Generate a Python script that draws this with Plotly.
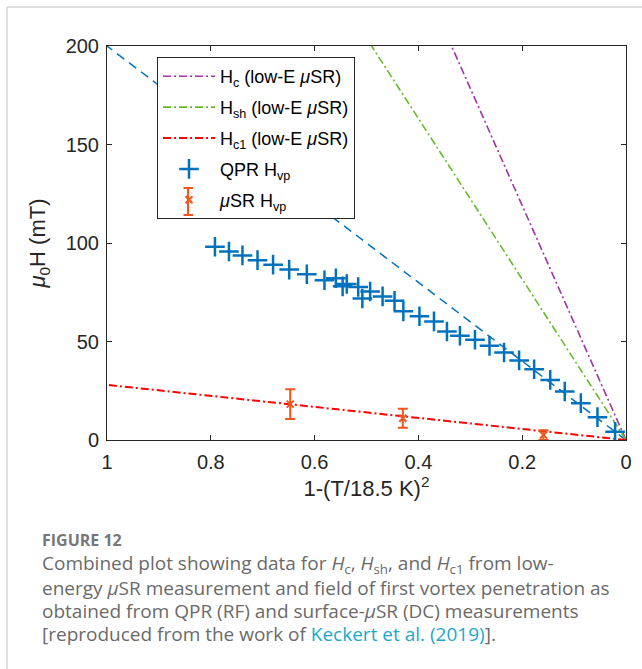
import plotly.graph_objects as go

# ---------------- data ----------------
qpr_t = [0.792, 0.765, 0.739, 0.710, 0.680, 0.649, 0.615, 0.581, 0.559, 0.546,
         0.538, 0.516, 0.508, 0.493, 0.469, 0.446, 0.429, 0.398, 0.370, 0.345,
         0.320, 0.291, 0.263, 0.235, 0.206, 0.177, 0.146, 0.118, 0.087, 0.055, 0.021]
qpr_H = [98.1, 95.7, 93.7, 91.3, 89.0, 86.5, 84.1, 81.1, 82.1, 78.0,
         79.2, 77.7, 71.8, 75.4, 72.9, 70.7, 65.3, 62.8, 60.2, 55.1,
         52.9, 50.9, 47.8, 44.4, 40.4, 35.9, 30.5, 24.6, 18.7, 11.6, 4.2]

musr_t = [0.647, 0.430, 0.159]
musr_H = [18.2, 11.0, 2.5]
musr_err = [7.6, 4.8, 2.5]

line_t = [0.0, 1.0]
hc_H = [0.0, 595.0]
hsh_H = [0.0, 408.0]
hc1_H = [0.0, 28.0]
fit_H = [0.0, 200.0]

x_ticks = [0, 0.2, 0.4, 0.6, 0.8, 1]
x_ticklabels = ["0", "0.2", "0.4", "0.6", "0.8", "1"]
y_ticks = [0, 50, 100, 150, 200]

# ---------------- geometry helpers ----------------
W, H = 642, 669
L, R, T, B = 107, 626, 46, 440


def px(x):
    return (x - L) / (R - L)


def py(y):
    return (B - y) / (B - T)


BLUE = "#0072BD"
PURPLE = "#A033A6"
GREEN = "#68BA2C"
RED = "#FF0000"
ORANGE = "#F0561E"
FONT = "Liberation Sans, Arial, sans-serif"
MU = "<i>μ</i>"

fig = go.Figure()

fig.add_trace(go.Scatter(x=line_t, y=fit_H, mode="lines", showlegend=False,
                         line=dict(color=BLUE, width=1.5, dash="9px,6px")))
fig.add_trace(go.Scatter(x=line_t, y=hc_H, mode="lines", legendgroup="a",
                         name=f"H<sub>c</sub> (low-E {MU}SR)",
                         line=dict(color=PURPLE, width=1.6, dash="8px,3px,2px,3px")))
fig.add_trace(go.Scatter(x=line_t, y=hsh_H, mode="lines", legendgroup="b",
                         name=f"H<sub>sh</sub> (low-E {MU}SR)",
                         line=dict(color=GREEN, width=1.6, dash="8px,3px,2px,3px")))
fig.add_trace(go.Scatter(x=line_t, y=hc1_H, mode="lines", legendgroup="c",
                         name=f"H<sub>c1</sub> (low-E {MU}SR)",
                         line=dict(color=RED, width=2, dash="8px,3px,2px,3px")))
fig.add_trace(go.Scatter(x=qpr_t, y=qpr_H, mode="markers", legendgroup="d",
                         name="QPR H<sub>vp</sub>",
                         marker=dict(symbol="cross-thin", size=14, color=BLUE,
                                     line=dict(color=BLUE, width=2.5))))
fig.add_trace(go.Scatter(x=musr_t, y=musr_H, mode="markers", legendgroup="e",
                         name=f"{MU}SR H<sub>vp</sub>",
                         marker=dict(symbol="x-thin", size=7, color=ORANGE,
                                     line=dict(color=ORANGE, width=2)),
                         error_y=dict(type="data", array=musr_err, color=ORANGE,
                                      thickness=2, width=5)))

axis_common = dict(showline=True, linecolor="#262626", linewidth=1, mirror="ticks",
                   ticks="inside", ticklen=5, tickwidth=1, tickcolor="#262626",
                   showgrid=False, zeroline=False,
                   tickfont=dict(family=FONT, size=20, color="#262626"))

fig.update_xaxes(range=[1, 0], tickvals=x_ticks, ticktext=x_ticklabels,
                 ticklabelstandoff=4,
                 title=dict(text="1-(T/18.5 K)<sup>2</sup>",
                            font=dict(family=FONT, size=22, color="#262626"),
                            standoff=7),
                 **axis_common)
fig.update_yaxes(range=[0, 200], tickvals=y_ticks, ticklabelstandoff=3,
                 title=dict(text=f"{MU}<sub>0</sub>H (mT)",
                            font=dict(family=FONT, size=22, color="#262626"),
                            standoff=13),
                 **axis_common)

fig.update_layout(
    width=W, height=H,
    margin=dict(l=L, r=W - R, t=T, b=H - B, autoexpand=False),
    paper_bgcolor="white", plot_bgcolor="white",
    font=dict(family=FONT, color="#262626"),
    legend=dict(x=px(157), y=py(57), xanchor="left", yanchor="top",
                bgcolor="white", bordercolor="#262626", borderwidth=1,
                itemwidth=52, font=dict(family=FONT, size=18, color="#000000"),
                tracegroupgap=4.5),
)

# legend symbol for the error-bar series (vertical bar with caps)
EB_X, EB_Y0, EB_Y1, CAP_W = 188, 188, 215, 10
for (x0, y0, dx, dy) in [(EB_X, EB_Y1, 0, -(EB_Y1 - EB_Y0)),
                         (EB_X + CAP_W / 2, EB_Y0, -CAP_W, 0),
                         (EB_X + CAP_W / 2, EB_Y1, -CAP_W, 0)]:
    fig.add_annotation(xref="paper", yref="paper", x=px(x0), y=py(y0),
                       ax=dx, ay=dy, text=" ", font=dict(size=1),
                       showarrow=True, arrowhead=0, arrowwidth=2,
                       arrowcolor=ORANGE, standoff=0, startstandoff=0, borderpad=0)

# card border
fig.add_shape(type="line", xref="paper", yref="paper",
              x0=px(7), x1=px(642), y0=py(7), y1=py(7),
              line=dict(color="#d4d4d4", width=1.5))
fig.add_shape(type="line", xref="paper", yref="paper",
              x0=px(7), x1=px(7), y0=py(7), y1=py(669),
              line=dict(color="#d4d4d4", width=1.5))

CAP = "Open Sans, Noto Sans, sans-serif"
GRAY = "#6a6a6a"
TEAL = "#1ba9c9"
fig.add_annotation(xref="paper", yref="paper", x=px(40), y=py(540),
                   xanchor="left", yanchor="middle", showarrow=False,
                   text="<b>FIGURE 12</b>",
                   font=dict(family=CAP, size=16, color="#777777"))
lines = [
    "Combined plot showing data for <i>H</i><sub>c</sub>, <i>H</i><sub>sh</sub>, and <i>H</i><sub>c1</sub> from low-",
    "energy <i>μ</i>SR measurement and field of first vortex penetration as",
    "obtained from QPR (RF) and surface-<i>μ</i>SR (DC) measurements",
    f"[reproduced from the work of <span style='color:{TEAL}'>Keckert et al. (2019)</span>].",
]
ys = [564, 588, 611, 634]
for txt, yy in zip(lines, ys):
    fig.add_annotation(xref="paper", yref="paper", x=px(40), y=py(yy),
                       xanchor="left", yanchor="middle", showarrow=False,
                       text=txt, font=dict(family=CAP, size=19, color=GRAY))

fig.write_html("out.html", config={"displayModeBar": False},
               post_script="document.body.style.margin='0';")
